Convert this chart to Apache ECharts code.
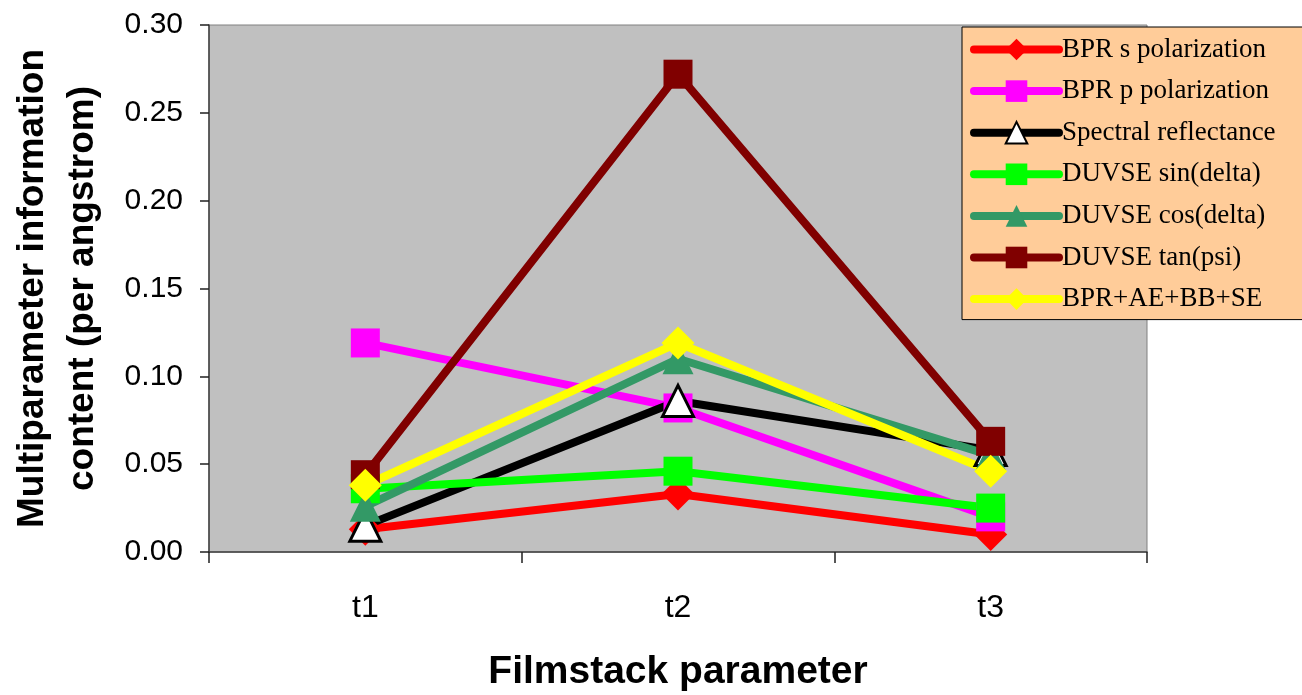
<!DOCTYPE html>
<html>
<head>
<meta charset="utf-8">
<script src="https://cdn.jsdelivr.net/npm/echarts@6/dist/echarts.min.js"></script>
<style>
html,body{margin:0;padding:0;background:#fff;}
#c{width:1302px;height:695px;}
</style>
</head>
<body>
<div id="c"></div>
<script>
const categories = ['t1', 't2', 't3'];
const yTicks = [0, 0.05, 0.10, 0.15, 0.20, 0.25, 0.30];
const seriesNames = ['BPR s polarization', 'BPR p polarization', 'Spectral reflectance', 'DUVSE sin(delta)', 'DUVSE cos(delta)', 'DUVSE tan(psi)', 'BPR+AE+BB+SE'];
const bprS = [0.013, 0.033, 0.010];
const bprP = [0.119, 0.082, 0.020];
const spectral = [0.015, 0.086, 0.058];
const sinDelta = [0.036, 0.046, 0.025];
const cosDelta = [0.026, 0.110, 0.055];
const tanPsi = [0.044, 0.272, 0.063];
const combined = [0.038, 0.119, 0.046];

const colors = ['#FF0000', '#FF00FF', '#000000', '#00FF00', '#339966', '#800000', '#FFFF00'];
const symbols = ['diamond', 'rect', 'triangle', 'rect', 'triangle', 'rect', 'diamond'];
const symbolSizes = [33, 29, 31, 29, 31, 29, 33];
const values = [bprS, bprP, spectral, sinDelta, cosDelta, tanPsi, combined];

const series = seriesNames.map((name, i) => {
  const isSpectral = i === 2;
  return {
    name: name,
    type: 'line',
    data: values[i],
    symbol: symbols[i],
    symbolSize: symbolSizes[i],
    showAllSymbol: true,
    lineStyle: { color: colors[i], width: 8 },
    itemStyle: isSpectral
      ? { color: '#FFFFFF', borderColor: '#000000', borderWidth: 3 }
      : { color: colors[i], borderWidth: 0 },
    emphasis: { disabled: true },
    animation: false
  };
});

const chart = echarts.init(document.getElementById('c'), null, { renderer: 'canvas' });
chart.setOption({
  animation: false,
  grid: {
    left: 209, right: 155, top: 25, bottom: 143,
    containLabel: false,
    outerBoundsMode: 'none',
    show: true, backgroundColor: '#C0C0C0', borderColor: '#808080', borderWidth: 1
  },
  xAxis: {
    type: 'category',
    data: categories,
    boundaryGap: true,
    axisLine: { lineStyle: { color: '#404040', width: 1.5 } },
    axisTick: { show: true, length: 11, lineStyle: { color: '#202020', width: 1.5 } },
    axisLabel: { color: '#000', fontFamily: 'Liberation Sans, Arial, sans-serif', fontSize: 32, margin: 40 },
    name: 'Filmstack parameter',
    nameLocation: 'middle',
    nameGap: 101,
    nameTextStyle: { color: '#000', fontFamily: 'Liberation Sans, Arial, sans-serif', fontWeight: 'bold', fontSize: 39 }
  },
  yAxis: {
    type: 'value',
    min: yTicks[0],
    max: yTicks[yTicks.length - 1],
    interval: 0.05,
    splitLine: { show: false },
    axisLine: { show: true, lineStyle: { color: '#404040', width: 1.5 } },
    axisTick: { show: true, length: 9, lineStyle: { color: '#202020', width: 1.5 } },
    axisLabel: {
      color: '#000', fontFamily: 'Liberation Sans, Arial, sans-serif', fontSize: 30, margin: 26,
      formatter: v => v.toFixed(2)
    },
    name: 'Multiparameter information\ncontent (per angstrom)',
    nameLocation: 'middle',
    nameRotate: 90,
    nameGap: 101,
    nameTextStyle: { color: '#000', fontFamily: 'Liberation Sans, Arial, sans-serif', fontWeight: 'bold', fontSize: 37, lineHeight: 50 }
  },
  legend: {
    orient: 'vertical',
    left: 962,
    top: 27,
    backgroundColor: '#FFCC99',
    borderColor: '#000000',
    borderWidth: 1,
    padding: [9, 30, 7, 8],
    itemWidth: 85,
    itemHeight: 27,
    itemGap: 14.6,
    lineStyle: { width: 8, cap: 'round' },
    textStyle: { color: '#000', fontFamily: 'Liberation Serif, Times New Roman, serif', fontSize: 27, padding: [0, 0, 0, -2] },
    data: seriesNames
  },
  series: series
});
</script>
</body>
</html>
